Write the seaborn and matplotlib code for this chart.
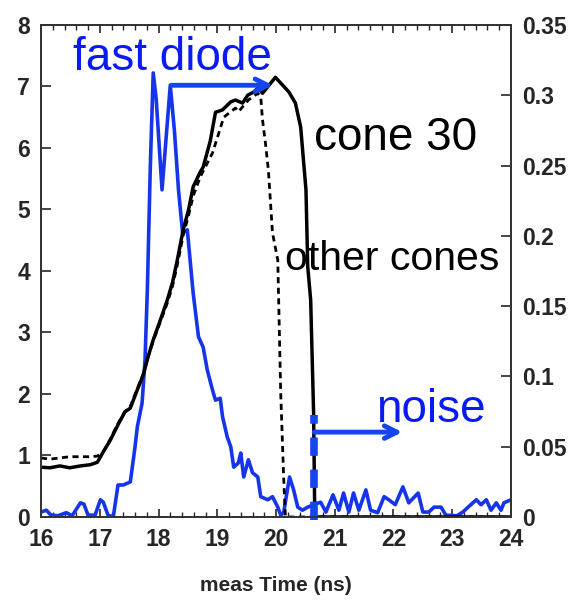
import matplotlib
matplotlib.use("Agg")
import matplotlib.pyplot as plt
import seaborn as sns
import pandas as pd
from matplotlib.ticker import MultipleLocator, FixedLocator

# ---- data ----
diode_t = [16.0, 16.09, 16.17, 16.29, 16.43, 16.53, 16.67, 16.73, 16.80, 16.92, 17.01, 17.06,
           17.14, 17.23, 17.31, 17.40, 17.52, 17.60, 17.64, 17.72, 17.77, 17.81, 17.86, 17.91,
           17.96, 18.06, 18.20, 18.27, 18.34, 18.41, 18.49, 18.59, 18.68, 18.76, 18.83, 18.92,
           18.97, 19.05, 19.09, 19.17, 19.23, 19.28, 19.36, 19.40, 19.45, 19.53, 19.60, 19.69,
           19.74, 19.86, 19.94, 20.03, 20.08, 20.13, 20.23, 20.30, 20.37, 20.45, 20.54, 20.64,
           20.76, 20.85, 20.97, 21.07, 21.15, 21.24, 21.32, 21.41, 21.53, 21.61, 21.73, 21.84,
           21.92, 22.03, 22.16, 22.26, 22.42, 22.50, 22.60, 22.69, 22.81, 22.89, 23.08, 23.18,
           23.27, 23.41, 23.49, 23.58, 23.66, 23.75, 23.83, 23.88, 24.0]
diode_v = [0.08, 0.11, 0.03, 0.02, 0.07, 0.02, 0.23, 0.21, 0.03, 0.03, 0.28, 0.24,
           0.03, 0.0, 0.52, 0.52, 0.57, 1.14, 1.47, 1.85, 2.55, 3.70, 5.69, 7.22,
           6.80, 5.32, 7.02, 6.29, 5.32, 4.62, 4.67, 3.64, 2.93, 2.76, 2.39, 2.06,
           1.90, 1.93, 1.63, 1.30, 1.14, 0.81, 0.88, 1.04, 0.65, 0.93, 0.72, 0.65,
           0.33, 0.28, 0.33, 0.16, 0.03, 0.07, 0.65, 0.44, 0.16, 0.11, 0.16, 0.20,
           0.24, 0.08, 0.36, 0.11, 0.39, 0.08, 0.39, 0.11, 0.44, 0.11, 0.07, 0.33,
           0.28, 0.20, 0.49, 0.23, 0.39, 0.08, 0.08, 0.16, 0.16, 0.03, 0.02, 0.08,
           0.16, 0.28, 0.20, 0.28, 0.11, 0.23, 0.11, 0.23, 0.28]

cone30_t = [16.0, 16.15, 16.32, 16.49, 16.67, 16.84, 16.96, 17.06, 17.18, 17.31, 17.43, 17.52,
            17.64, 17.74, 17.83, 17.91, 18.03, 18.15, 18.24, 18.32, 18.42, 18.51, 18.59, 18.71,
            18.76, 18.88, 18.97, 19.09, 19.23, 19.31, 19.43, 19.52, 19.62, 19.70, 19.77, 19.99,
            20.22, 20.33, 20.42, 20.51, 20.54, 20.59, 20.64, 20.66, 24.0]
cone30_v = [0.81, 0.80, 0.83, 0.80, 0.83, 0.85, 0.89, 1.06, 1.25, 1.50, 1.71, 1.77,
            2.07, 2.31, 2.63, 2.88, 3.20, 3.53, 3.82, 4.18, 4.67, 4.99, 5.37, 5.61,
            5.69, 6.11, 6.58, 6.62, 6.75, 6.78, 6.73, 6.86, 6.91, 6.98, 6.89, 7.15,
            6.91, 6.73, 6.34, 5.32, 4.07, 3.53, 1.69, 0.0, 0.0]

other_t = [16.0, 16.15, 16.32, 16.49, 16.67, 16.84, 16.96, 17.06, 17.18, 17.31, 17.43, 17.52,
           17.64, 17.74, 17.83, 17.91, 18.03, 18.15, 18.24, 18.32, 18.42, 18.51, 18.59, 18.71,
           18.92, 19.11, 19.31, 19.36, 19.53, 19.69, 19.74, 19.77, 19.82, 19.87, 19.94, 20.03,
           20.08, 20.13, 20.16, 24.0]
other_v = [0.96, 0.94, 0.96, 0.98, 0.98, 0.98, 0.99, 1.06, 1.27, 1.52, 1.72, 1.80,
           2.09, 2.33, 2.62, 2.86, 3.17, 3.48, 3.76, 4.10, 4.58, 4.90, 5.22, 5.53,
           5.92, 6.50, 6.65, 6.59, 6.78, 6.89, 6.83, 6.46, 6.08, 5.64, 4.62, 4.18,
           2.02, 0.65, 0.0, 0.0]

left_ticks = [0, 1, 2, 3, 4, 5, 6, 7, 8]
right_ticks = [0, 0.05, 0.1, 0.15, 0.2, 0.25, 0.3, 0.35]
right_labels = ["0", "0.05", "0.1", "0.15", "0.2", "0.25", "0.3", "0.35"]
x_ticks = [16, 17, 18, 19, 20, 21, 22, 23, 24]

noise_t = 20.65

sns.set_style("ticks")
plt.rcParams['font.family'] = ['Liberation Sans', 'DejaVu Sans']

fig = plt.figure(figsize=(5.77, 6.01), dpi=100)
ax = fig.add_axes([0.0711, 0.1398, 0.8145, 0.8186])

BLUE = "#1634ea"
df_d = pd.DataFrame({"t": diode_t, "v": diode_v})
df_c = pd.DataFrame({"t": cone30_t, "v": cone30_v})
df_o = pd.DataFrame({"t": other_t, "v": other_v})

sns.lineplot(data=df_d, x="t", y="v", ax=ax, color=BLUE, lw=2.6, zorder=3)
sns.lineplot(data=df_o, x="t", y="v", ax=ax, color="black", lw=2.0,
             linestyle=(0, (2.2, 1.6)), zorder=4)
sns.lineplot(data=df_c, x="t", y="v", ax=ax, color="black", lw=2.5, zorder=5)

ax2 = ax.twinx()

ax.set_xlim(16, 24)
ax.set_ylim(0, 8)
ax.set_xticks(x_ticks)
ax.set_yticks(left_ticks)
ax.xaxis.set_minor_locator(MultipleLocator(0.2))
ax.tick_params(axis="x", which="major", direction="in", length=6, width=1.2,
               top=True, labelsize=16.5, pad=8)
ax.tick_params(axis="x", which="minor", direction="in", length=3.5, width=1.0,
               top=True, bottom=True)
ax.tick_params(axis="y", which="major", direction="in", length=7, width=1.2,
               labelsize=16.5, pad=8)
for lab in ax.get_xticklabels() + ax.get_yticklabels():
    lab.set_fontweight("bold")
ax.set_xlabel("meas Time (ns)", fontsize=15, fontweight="bold", labelpad=18)
ax.set_ylabel("")
for s in ax.spines.values():
    s.set_linewidth(1.3)
    s.set_color("#333333")

ax2.set_ylim(0, 0.35)
ax2.yaxis.set_major_locator(FixedLocator(right_ticks))
ax2.set_yticklabels(right_labels)
ax2.tick_params(axis="y", direction="in", length=7, width=1.2, labelsize=16.5, pad=8)
for lab in ax2.get_yticklabels():
    lab.set_fontweight("bold")
for s in ax2.spines.values():
    s.set_linewidth(1.3)
    s.set_color("#333333")

# annotations
ax.annotate("", xy=(19.95, 7.02), xytext=(18.22, 7.02),
            arrowprops=dict(arrowstyle="->,head_length=0.9,head_width=0.45",
                            color="#1545ee", lw=3.5, shrinkA=0, shrinkB=0), zorder=6)
ax.text(18.23, 7.27, "fast diode", color="#0a1af5", fontsize=33, ha="center",
        va="baseline", zorder=7)
ax.text(20.64, 5.97, "cone 30", color="black", fontsize=33, ha="left", va="baseline")
ax.text(20.16, 4.02, "other cones", color="black", fontsize=29.5, ha="left", va="baseline")
ax.text(21.71, 1.55, "noise", color="#0a1af5", fontsize=33, ha="left", va="baseline")

ax.plot([noise_t, noise_t], [-0.05, 1.66], color="#1545ee", lw=5.5,
        linestyle=(0, (2.4, 1.8)), zorder=6, clip_on=False, solid_capstyle="butt")
ax.annotate("", xy=(22.15, 1.38), xytext=(noise_t, 1.38),
            arrowprops=dict(arrowstyle="->,head_length=0.9,head_width=0.45",
                            color="#1545ee", lw=3.5, shrinkA=0, shrinkB=0), zorder=6)

fig.savefig("out.png", dpi=100)
